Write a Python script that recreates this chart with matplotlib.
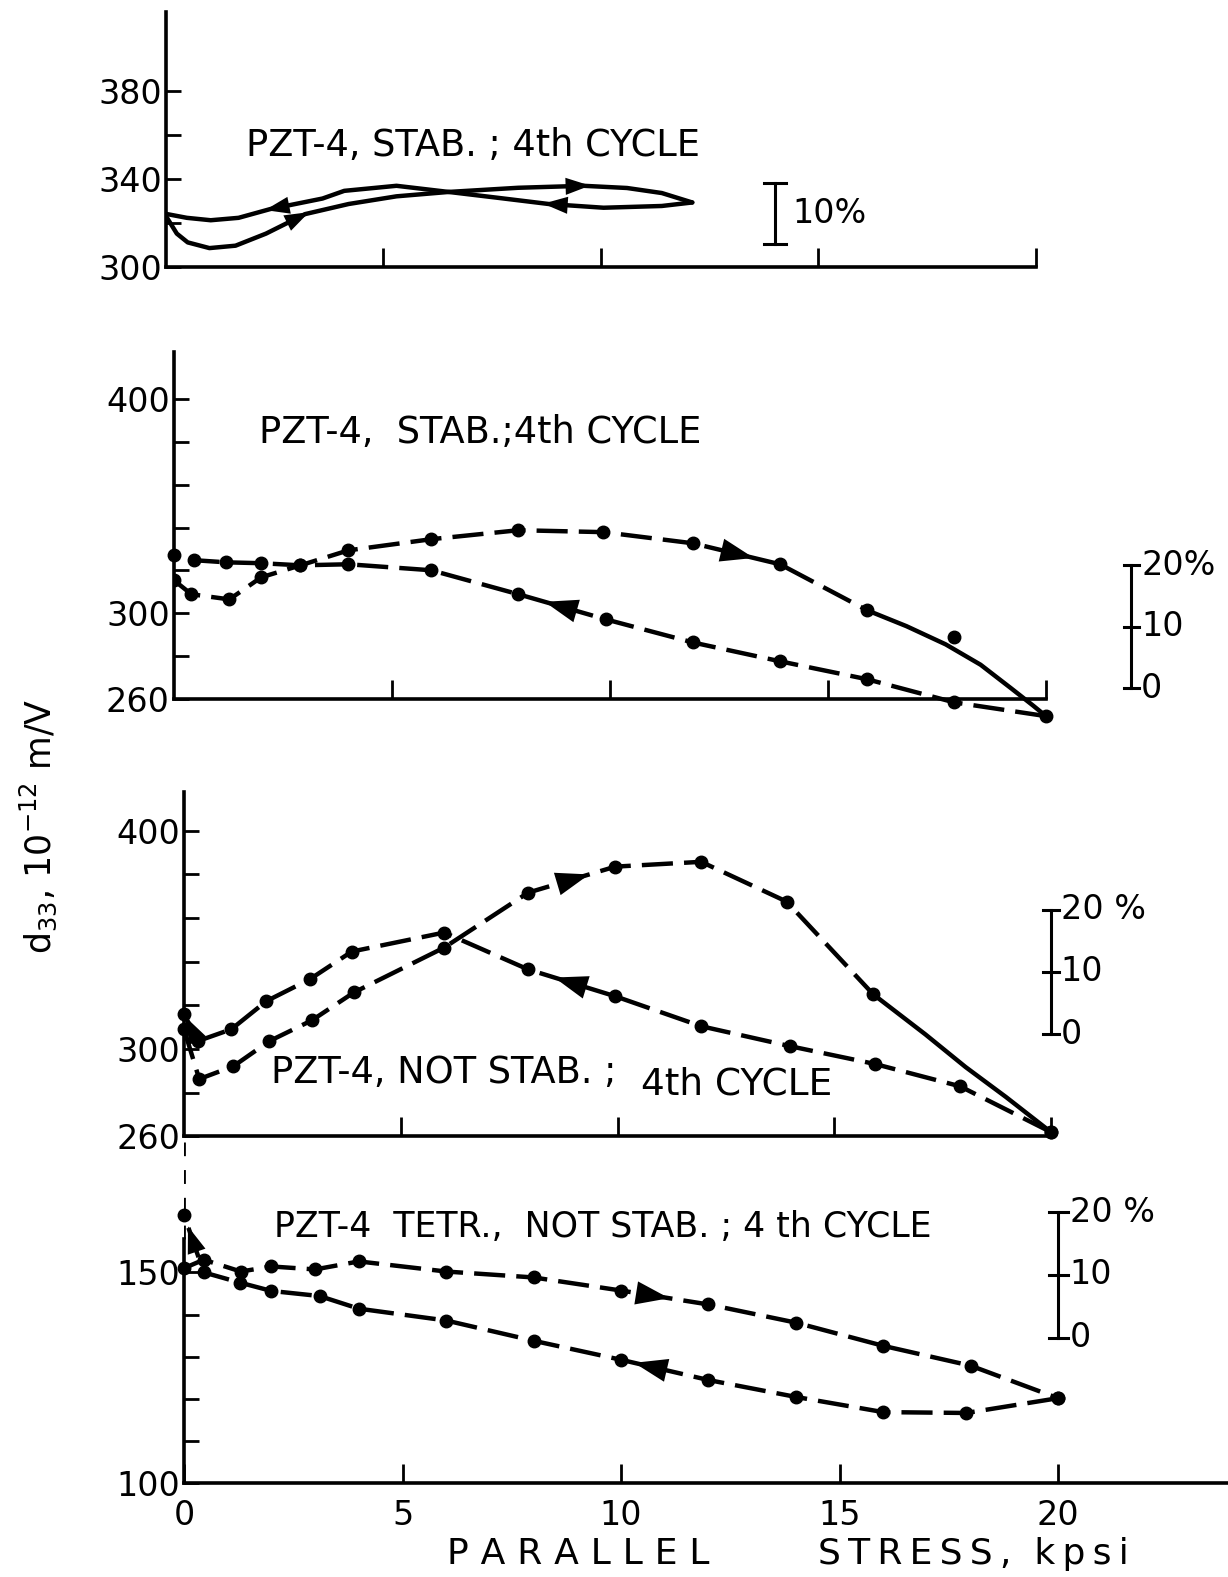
import matplotlib
matplotlib.use("Agg")
from matplotlib import pyplot as plt

# ---- panel 1: PZT-4, stabilized (solid loop) ----
P1_LOAD_X = [0, 0.25, 0.5, 1.0, 1.6, 2.3, 3.2, 4.2, 5.3, 6.5, 8.1, 9.6, 10.6, 11.4, 12.1]
P1_LOAD_Y = [323, 315, 311, 308.4, 309.5, 315, 323.9, 328.5, 332, 334, 335.9, 336.8, 335.8, 333.5, 329.2]
P1_UNLOAD_X = [12.1, 11.4, 10.06, 8.8, 7.6, 6.5, 5.3, 4.1, 3.6, 2.4, 1.67, 1.03, 0.48, 0]
P1_UNLOAD_Y = [329.2, 327.6, 326.8, 328.5, 331.4, 334, 336.8, 334.5, 331, 326.2, 322.2, 321.1, 322.2, 324]

# ---- panel 2: PZT-4, stabilized ----
P2_LOAD_X = [0, 0.4, 1.27, 2.0, 2.9, 4.0, 5.9, 7.9, 9.85, 11.9, 13.9, 15.9]
P2_LOAD_Y = [315.4, 308.9, 306.5, 316.8, 322.4, 329.4, 334.6, 338.8, 337.9, 332.7, 322.9, 301.4]
P2_TAIL_X = [15.9, 16.8, 17.7, 18.5, 19.2, 19.7, 20.0]
P2_TAIL_Y = [301.4, 294, 285.5, 276, 265, 257, 252]
P2_STRAY_X = [17.9]
P2_STRAY_Y = [288.8]
P2_UNLOAD_X = [20.0, 17.9, 15.9, 13.9, 11.9, 9.9, 7.9, 5.9, 4.0, 2.9, 2.0, 1.2, 0.46, 0]
P2_UNLOAD_Y = [252, 258.4, 269.2, 277.6, 286.4, 297.2, 308.9, 320.1, 322.9, 322.4, 323.4, 323.8, 324.8, 327.1]

# ---- panel 3: PZT-4, not stabilized ----
P3_LOAD_X = [0, 0.35, 1.14, 1.97, 2.95, 3.92, 6.0, 7.94, 9.95, 11.93, 13.9, 15.9]
P3_LOAD_Y = [309.1, 286.3, 292.2, 303.7, 313.2, 326.0, 346.5, 371.7, 383.6, 385.8, 367.6, 325.1]
P3_TAIL_X = [15.9, 17.1, 18.03, 18.96, 20.0]
P3_TAIL_Y = [325.1, 306.8, 291.8, 278.1, 262]
P3_UNLOAD_X = [20.0, 17.9, 15.94, 13.97, 11.93, 9.95, 7.94, 6.0, 3.87, 2.9, 1.9, 1.09, 0.32, 0]
P3_UNLOAD_Y = [262, 283, 293.2, 301.4, 310.5, 324.2, 336.5, 353.4, 344.7, 332, 322, 309.1, 303.7, 316]

# ---- panel 4: PZT-4 tetragonal, not stabilized ----
P4_LOAD_X = [0, 0.45, 1.3, 2.0, 3.0, 4.0, 6.0, 8.0, 10.0, 12.0, 14.0, 16.0, 18.0, 20.0]
P4_LOAD_Y = [151, 153, 150.2, 151.4, 150.7, 152.6, 150.2, 148.8, 145.7, 142.4, 138.1, 132.6, 127.9, 120.2]
P4_UNLOAD_X = [20.0, 17.9, 16.0, 14.0, 12.0, 10.0, 8.0, 6.0, 4.0, 3.1, 2.0, 1.27, 0.45, 0]
P4_UNLOAD_Y = [120.2, 116.7, 116.9, 120.5, 124.5, 129.3, 133.8, 138.6, 141.4, 144.4, 145.6, 147.6, 150, 163.6]

LW = 3.2
DASH = (7, 2.5)
MS = 9
FS = 24
TFS = 26.5
FIG_W, FIG_H = 1221.0, 1568.0


def rect(left, right, top, bottom):
    return [left / FIG_W, 1 - bottom / FIG_H, (right - left) / FIG_W, (bottom - top) / FIG_H]


def setup(ax, xlim, ylim, yticks, ylabels, xticks, xlabels=None):
    ax.set_xlim(*xlim)
    ax.set_ylim(*ylim)
    for s in ("top", "right"):
        ax.spines[s].set_visible(False)
    for s in ("left", "bottom"):
        ax.spines[s].set_linewidth(2.6)
    ax.set_yticks(yticks)
    ax.set_yticklabels(ylabels)
    ax.set_xticks(xticks)
    ax.set_xticklabels(xlabels if xlabels else [""] * len(xticks))
    ax.tick_params(axis="y", direction="in", length=11, width=2, labelsize=FS, pad=3)
    ax.tick_params(axis="x", direction="in", length=14, width=2, labelsize=FS, pad=11)
    ax.patch.set_alpha(0)


def arrow_at(ax, xs, ys, i, t=0.5, size=30):
    # filled arrow head sitting on the segment i -> i+1 of a curve
    dx, dy = xs[i + 1] - xs[i], ys[i + 1] - ys[i]
    px, py = xs[i] + t * dx, ys[i] + t * dy
    ax.annotate("", xy=(px + 0.2 * dx, py + 0.2 * dy), xytext=(px - 0.2 * dx, py - 0.2 * dy),
                arrowprops=dict(arrowstyle="-|>,head_length=0.8,head_width=0.28", fc="k", ec="k",
                                lw=0, shrinkA=0, shrinkB=0, mutation_scale=size))


def scale_bar(ax, x, y0, y1, labels):
    ax.plot([x, x], [y0, y1], color="k", lw=2.2, clip_on=False)
    span = (ax.get_xlim()[1] - ax.get_xlim()[0]) / 100.0
    ym = (y0 + y1) / 2
    for yy in (y0, ym, y1):
        ax.plot([x - 0.9 * span, x + 0.9 * span], [yy, yy], color="k", lw=2.2, clip_on=False)
    for yy, lab in zip([y1, ym, y0], labels):
        ax.text(x + 1.1 * span, yy, lab, fontsize=FS, va="center", ha="left", clip_on=False)


fig = plt.figure(figsize=(12.28, 15.77), dpi=100)

# panel 1
ax1 = fig.add_axes(rect(165, 1030, 12, 265))
setup(ax1, (0, 20), (300, 416), [300, 320, 340, 360, 380], ["300", "", "340", "", "380"], [5, 10, 15, 20])
ax1.plot(P1_LOAD_X, P1_LOAD_Y, color="k", lw=LW, solid_capstyle="round")
ax1.plot(P1_UNLOAD_X, P1_UNLOAD_Y, color="k", lw=LW, solid_capstyle="round")
arrow_at(ax1, P1_LOAD_X, P1_LOAD_Y, 5, t=0.9, size=22)
arrow_at(ax1, P1_LOAD_X, P1_LOAD_Y, 10, t=0.9, size=22)
arrow_at(ax1, P1_UNLOAD_X, P1_UNLOAD_Y, 2, t=0.9, size=22)
arrow_at(ax1, P1_UNLOAD_X, P1_UNLOAD_Y, 8, t=0.9, size=22)
ax1.text(1.85, 355, "PZT-4, STAB. ; 4th CYCLE", fontsize=TFS, va="center")
ax1.plot([14.0, 14.0], [310.1, 338.2], color="k", lw=2.2)
ax1.plot([13.75, 14.25], [338.2, 338.2], color="k", lw=2.2)
ax1.plot([13.75, 14.25], [310.1, 310.1], color="k", lw=2.2)
ax1.text(14.4, 324, "10%", fontsize=FS, va="center")

# panel 2
ax2 = fig.add_axes(rect(173, 1040, 350, 695))
setup(ax2, (0, 20), (260, 422), list(range(260, 401, 20)),
      ["260", "", "300", "", "", "", "", "400"], [5, 10, 15, 20])
ax2.plot(P2_LOAD_X, P2_LOAD_Y, color="k", lw=LW, dashes=DASH, marker="o", ms=MS)
ax2.plot(P2_TAIL_X, P2_TAIL_Y, color="k", lw=LW, clip_on=False)
ax2.plot(P2_STRAY_X, P2_STRAY_Y, "o", color="k", ms=MS)
ax2.plot(P2_UNLOAD_X, P2_UNLOAD_Y, color="k", lw=LW, dashes=DASH, marker="o", ms=MS, clip_on=False)
arrow_at(ax2, P2_LOAD_X, P2_LOAD_Y, 9)
arrow_at(ax2, P2_UNLOAD_X, P2_UNLOAD_Y, 5)
ax2.text(1.96, 384.6, "PZT-4,  STAB.;4th CYCLE", fontsize=TFS, va="center")
scale_bar(ax2, 21.96, 265, 322.4, ["20%", "10", "0"])

# panel 3
ax3 = fig.add_axes(rect(183, 1045, 787, 1130))
setup(ax3, (0, 20), (260, 418), list(range(260, 401, 20)),
      ["260", "", "300", "", "", "", "", "400"], [5, 10, 15, 20])
ax3.plot(P3_LOAD_X, P3_LOAD_Y, color="k", lw=LW, dashes=DASH, marker="o", ms=MS, clip_on=False)
ax3.plot(P3_TAIL_X, P3_TAIL_Y, color="k", lw=LW, clip_on=False)
ax3.plot(P3_TAIL_X[-1:], P3_TAIL_Y[-1:], "o", color="k", ms=MS, clip_on=False)
ax3.plot(P3_UNLOAD_X, P3_UNLOAD_Y, color="k", lw=LW, dashes=DASH, marker="o", ms=MS, clip_on=False)
arrow_at(ax3, P3_LOAD_X, P3_LOAD_Y, 7)
arrow_at(ax3, P3_UNLOAD_X, P3_UNLOAD_Y, 5)
arrow_at(ax3, P3_UNLOAD_X, P3_UNLOAD_Y, 12, t=0.7, size=24)
ax3.text(2.0, 289.5, "PZT-4, NOT STAB. ;", fontsize=TFS, va="center")
ax3.text(10.55, 284, "4th CYCLE", fontsize=27, va="center")
scale_bar(ax3, 20.0, 306.8, 363.9, ["20 %", "10", "0"])

# panel 4
ax4 = fig.add_axes(rect(183, 1228, 1135, 1475))
setup(ax4, (0, 24.05), (100, 181), list(range(100, 151, 10)),
      ["100", "", "", "", "", "150"], [0, 5, 10, 15, 20], ["0", "5", "10", "15", "20"])
ax4.spines["left"].set_bounds(100, 158)
ax4.axvline(0, ymin=(158 - 100) / 81.0, ymax=1, color="k", lw=2, ls=(0, (5, 5)))
ax4.plot(P4_LOAD_X, P4_LOAD_Y, color="k", lw=LW, dashes=DASH, marker="o", ms=MS, clip_on=False)
ax4.plot(P4_UNLOAD_X, P4_UNLOAD_Y, color="k", lw=LW, dashes=DASH, marker="o", ms=MS, clip_on=False)
arrow_at(ax4, P4_LOAD_X, P4_LOAD_Y, 8, t=0.35)
arrow_at(ax4, P4_UNLOAD_X, P4_UNLOAD_Y, 4, t=0.65)
arrow_at(ax4, P4_UNLOAD_X, P4_UNLOAD_Y, 12, t=0.6, size=24)
ax4.text(2.05, 160.7, "PZT-4  TETR.,  NOT STAB. ; 4 th CYCLE", fontsize=25, va="center")
scale_bar(ax4, 20.0, 134.5, 164.3, ["20 %", "10", "0"])

fig.text(38 / FIG_W, 1 - 822 / FIG_H, r"d$_{33}$, 10$^{-12}$ m/V", fontsize=25, rotation=90,
         ha="center", va="center")
fig.text(575 / FIG_W, 1 - 1545 / FIG_H, "\u2004".join("PARALLEL"), fontsize=26, ha="center", va="center")
fig.text(968 / FIG_W, 1 - 1545 / FIG_H, "\u2009".join("STRESS,") + "  " + "\u2009".join("kpsi"),
         fontsize=26, ha="center", va="center")

fig.savefig("out.png", dpi=100)
